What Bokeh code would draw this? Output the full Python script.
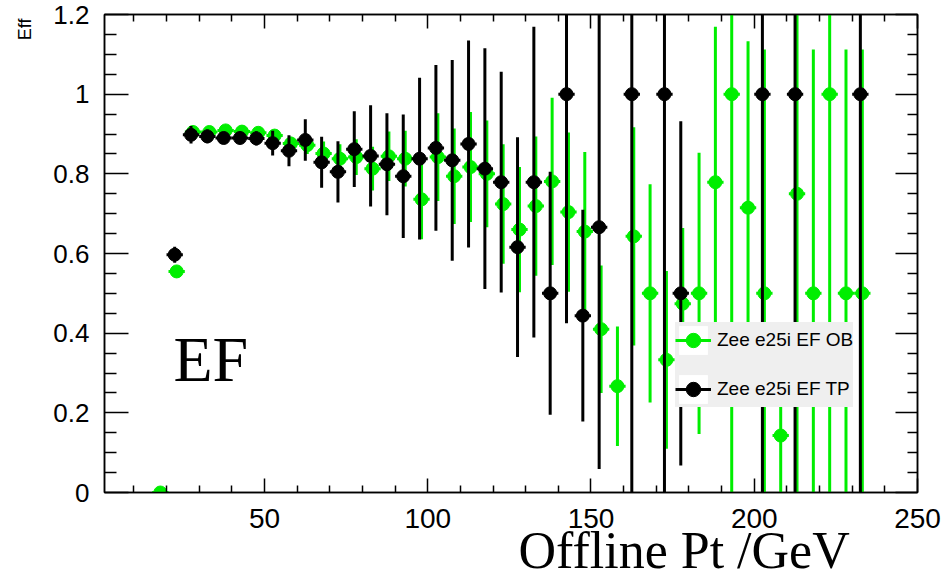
import numpy as np
from bokeh.plotting import figure
from bokeh.models import (ColumnDataSource, Range1d, LinearAxis, FixedTicker, Label,
                          Legend, LegendItem, Title, CustomJSTickFormatter)
from bokeh.transform import dodge
from bokeh.embed import file_html
from bokeh.resources import INLINE

# ---------------- data ----------------
ob_label = "Zee e25i EF OB"
ob_x = [17.5, 22.5, 27.5, 32.5, 37.5, 42.5, 47.5, 52.5, 57.5, 62.5, 67.5, 72.5,
        77.5, 82.5, 87.5, 92.5, 97.5, 102.5, 107.5, 112.5, 117.5, 122.5, 127.5,
        132.5, 137.5, 142.5, 147.5, 152.5, 157.5, 162.5, 167.5, 172.5, 177.5,
        182.5, 187.5, 192.5, 197.5, 202.5, 207.5, 212.5, 217.5, 222.5, 227.5, 232.5]
ob_y = [0.0, 0.555, 0.905, 0.905, 0.909, 0.906, 0.903, 0.896, 0.876, 0.872, 0.851, 0.838,
        0.842, 0.813, 0.844, 0.838, 0.736, 0.842, 0.794, 0.817, 0.800, 0.724, 0.660,
        0.719, 0.781, 0.704, 0.655, 0.410, 0.267, 0.643, 0.500, 0.333, 0.474,
        0.500, 0.779, 1.000, 0.715, 0.500, 0.143, 0.750, 0.500, 1.000, 0.500, 0.500]
ob_err = [0.0, 0.01, 0.01, 0.01, 0.01, 0.01, 0.012, 0.013, 0.017, 0.022, 0.03, 0.036,
          0.045, 0.055, 0.062, 0.07, 0.1, 0.11, 0.12, 0.138, 0.134, 0.15, 0.157,
          0.175, 0.21, 0.2, 0.2, 0.16, 0.15, 0.274, 0.274, 0.223, 0.19,
          0.353, 0.39, 1.0, 0.418, 0.612, 0.25, 0.8, 0.612, 1.0, 0.612, 0.612]

tp_label = "Zee e25i EF TP"
tp_x = [22.5, 27.5, 32.5, 37.5, 42.5, 47.5, 52.5, 57.5, 62.5, 67.5, 72.5,
        77.5, 82.5, 87.5, 92.5, 97.5, 102.5, 107.5, 112.5, 117.5, 122.5, 127.5,
        132.5, 137.5, 142.5, 147.5, 152.5, 162.5, 172.5, 177.5, 202.5, 212.5, 232.5]
tp_y = [0.597, 0.898, 0.894, 0.890, 0.890, 0.889, 0.877, 0.858, 0.885, 0.829, 0.805,
        0.862, 0.845, 0.824, 0.794, 0.838, 0.865, 0.834, 0.875, 0.813, 0.779, 0.616,
        0.779, 0.500, 1.000, 0.444, 0.666, 1.000, 1.000, 0.500, 1.000, 1.000, 1.000]
tp_err = [0.02, 0.022, 0.017, 0.015, 0.015, 0.018, 0.031, 0.039, 0.052, 0.064, 0.077,
          0.095, 0.127, 0.128, 0.155, 0.203, 0.208, 0.252, 0.26, 0.302, 0.277, 0.276,
          0.39, 0.305, 0.575, 0.266, 0.607, 1.0, 1.0, 0.432, 1.0, 1.0, 1.0]

bin_half_width = 2.5

x_major_ticks = [50, 100, 150, 200, 250]
x_minor_ticks = [10, 20, 30, 40, 60, 70, 80, 90, 110, 120, 130, 140,
                 160, 170, 180, 190, 210, 220, 230, 240]
y_major_ticks = [0.0, 0.2, 0.4, 0.6, 0.8, 1.0, 1.2]
y_tick_labels = ["0", "0.2", "0.4", "0.6", "0.8", "1", "1.2"]
y_minor_ticks = [0.05, 0.1, 0.15, 0.25, 0.3, 0.35, 0.45, 0.5, 0.55, 0.65, 0.7, 0.75,
                 0.85, 0.9, 0.95, 1.05, 1.1, 1.15]

x_title = "Offline Pt /GeV"
y_title = "Eff"
panel_text = "EF"

# ---------------- styles ----------------
GREEN = "#00ee00"
BLACK = "#000000"
SANS = "Liberation Sans"
SERIF = "Liberation Serif"


def make_source(xs, ys, errs):
    xs = np.array(xs, dtype=float)
    ys = np.array(ys, dtype=float)
    es = np.array(errs, dtype=float)
    return ColumnDataSource(dict(x=xs, y=ys, lo=ys - es, hi=ys + es,
                                 xl=xs - bin_half_width, xr=xs + bin_half_width))


ob_src = make_source(ob_x, ob_y, ob_err)
tp_src = make_source(tp_x, tp_y, tp_err)

p = figure(width=942, height=580, output_backend="svg", toolbar_location=None,
           x_range=Range1d(1, 250), y_range=Range1d(0, 1.2),
           min_border_left=102, min_border_right=25, min_border_top=14, min_border_bottom=88)
p.xgrid.visible = False
p.ygrid.visible = False
p.outline_line_color = "black"
p.outline_line_width = 1.5
p.background_fill_color = "white"
p.border_fill_color = "white"


def style_axis(ax, tick_in, minor_in, labels=True):
    ax.major_tick_in = tick_in
    ax.major_tick_out = 0
    ax.minor_tick_in = minor_in
    ax.minor_tick_out = 0
    ax.axis_line_width = 1.5
    ax.axis_line_color = "black"
    ax.major_tick_line_width = 1.5
    ax.minor_tick_line_width = 1.5
    ax.major_tick_line_color = "black"
    ax.minor_tick_line_color = "black"
    if not labels:
        ax.formatter = CustomJSTickFormatter(code="return ''")
        ax.major_label_text_font_size = "8px"
        ax.major_label_standoff = 0


xa = p.xaxis[0]
xa.ticker = FixedTicker(ticks=x_major_ticks, minor_ticks=x_minor_ticks)
style_axis(xa, 14, 7)
xa.major_label_text_font = SANS
xa.major_label_text_font_size = "28px"
xa.major_label_text_color = "black"
xa.major_label_standoff = 16

ya = p.yaxis[0]
ya.ticker = FixedTicker(ticks=y_major_ticks, minor_ticks=y_minor_ticks)
style_axis(ya, 24, 12)
ya.major_label_text_font = SANS
ya.major_label_text_font_size = "26px"
ya.major_label_text_color = "black"
ya.major_label_standoff = 15
ya.major_label_overrides = {v: s for v, s in zip(y_major_ticks, y_tick_labels)}

top_axis = LinearAxis(ticker=FixedTicker(ticks=x_major_ticks, minor_ticks=x_minor_ticks))
style_axis(top_axis, 14, 7, labels=False)
p.add_layout(top_axis, "above")

right_axis = LinearAxis(ticker=FixedTicker(ticks=y_major_ticks, minor_ticks=y_minor_ticks))
style_axis(right_axis, 22, 10, labels=False)
p.add_layout(right_axis, "right")

# axis titles as side-panel titles so they can be shifted like in the original
p.add_layout(Title(text=x_title, align="left", vertical_align="top", offset=414,
                   standoff=-18, text_font=SERIF, text_font_size="52px",
                   text_font_style="normal", text_color="black"), "below")
p.add_layout(Title(text=y_title, align="right", vertical_align="top", offset=4,
                   standoff=28, text_font=SANS, text_font_size="18px",
                   text_font_style="normal", text_color="black"), "left")

# ---------------- glyphs ----------------
gx = dodge("x", 0.6)
gxl = dodge("xl", 0.6)
gxr = dodge("xr", 0.6)

# zero-size white boxes: only visible as the legend glyph background
ob_box = p.quad(left="x", right="x", top="y", bottom="y", source=ob_src,
                fill_color="white", line_color=None)
tp_box = p.quad(left="x", right="x", top="y", bottom="y", source=tp_src,
                fill_color="white", line_color=None)

ob_vert = p.segment(x0=gx, y0="lo", x1=gx, y1="hi", source=ob_src,
                    line_color=GREEN, line_width=3)
p.segment(x0=gxl, y0="y", x1=gxr, y1="y", source=ob_src, line_color=GREEN, line_width=3)
ob_dot = p.scatter(x=gx, y="y", source=ob_src, size=13, marker="circle",
                   fill_color=GREEN, line_color=GREEN)

tp_vert = p.segment(x0="x", y0="lo", x1="x", y1="hi", source=tp_src,
                    line_color=BLACK, line_width=3)
p.segment(x0="xl", y0="y", x1="xr", y1="y", source=tp_src, line_color=BLACK, line_width=3)
tp_dot = p.scatter(x="x", y="y", source=tp_src, size=13, marker="circle",
                   fill_color=BLACK, line_color=BLACK)

legend = Legend(items=[LegendItem(label=ob_label, renderers=[ob_box, ob_vert, ob_dot]),
                       LegendItem(label=tp_label, renderers=[tp_box, tp_vert, tp_dot])],
                location=(571, 85), orientation="vertical",
                background_fill_color="#efefef", background_fill_alpha=1.0,
                border_line_color=None, padding=10, spacing=13, margin=0,
                glyph_width=36, glyph_height=36, label_standoff=6,
                label_text_font=SANS, label_text_font_size="19px",
                label_text_color="black", label_height=36)
p.add_layout(legend)

# ---------------- texts ----------------
p.add_layout(Label(x=69, y=133, x_units="screen", y_units="screen", text=panel_text,
                   text_font=SERIF, text_font_size="64px", text_color="black",
                   text_baseline="alphabetic", text_align="left"))

open("out.html", "w").write(file_html(p, INLINE))
